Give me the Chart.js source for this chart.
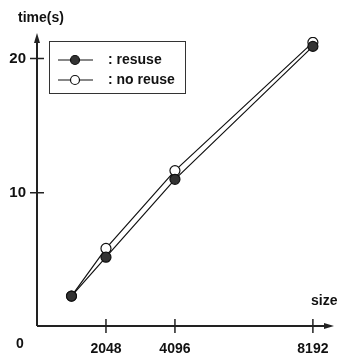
<!DOCTYPE html>
<html>
<head>
<meta charset="utf-8">
<script src="https://cdn.jsdelivr.net/npm/chart.js@4.4.1/dist/chart.umd.min.js"></script>
<style>
  html, body { margin: 0; padding: 0; background: #fff; }
  #wrap { width: 338px; height: 354px; }
</style>
</head>
<body>
<div id="wrap"><canvas id="timeChart" width="338" height="354"></canvas></div>
<script>
const sizes = [1024, 2048, 4096, 8192];
const reuseTimes = [2.3, 5.2, 11.0, 20.9];
const noReuseTimes = [2.3, 5.85, 11.65, 21.2];
const xTicks = [2048, 4096, 8192];
const yTicks = [10, 20];
const seriesLabels = [': resuse', ': no reuse'];

const font = { family: '"Liberation Sans", Arial, sans-serif', size: 14, weight: 'bold' };

// axes with arrows, crossing tick marks, axis titles and the legend box
const decor = {
  id: 'decor',
  afterDraw(chart) {
    const ctx = chart.ctx;
    const area = chart.chartArea;
    const xs = chart.scales.x, ys = chart.scales.y;
    const x0 = xs.getPixelForValue(0), y0 = ys.getPixelForValue(0) - 1;
    ctx.save();
    ctx.strokeStyle = '#222';
    ctx.fillStyle = '#222';
    ctx.lineWidth = 2;
    ctx.beginPath();
    ctx.moveTo(x0, y0);
    ctx.lineTo(x0, area.top + 2);
    ctx.moveTo(x0, y0);
    ctx.lineTo(area.right - 2, y0);
    ctx.stroke();
    // arrow heads
    ctx.beginPath();
    ctx.moveTo(x0, area.top - 4);
    ctx.lineTo(x0 - 3, area.top + 6);
    ctx.lineTo(x0 + 3, area.top + 6);
    ctx.closePath();
    ctx.fill();
    ctx.beginPath();
    ctx.moveTo(area.right + 4, y0);
    ctx.lineTo(area.right - 6, y0 - 3);
    ctx.lineTo(area.right - 6, y0 + 3);
    ctx.closePath();
    ctx.fill();
    // ticks
    ctx.lineWidth = 1.5;
    ctx.beginPath();
    xTicks.forEach(v => {
      const p = xs.getPixelForValue(v);
      ctx.moveTo(p, y0 - 7);
      ctx.lineTo(p, y0 + 7);
    });
    yTicks.forEach(v => {
      const p = ys.getPixelForValue(v);
      ctx.moveTo(x0 - 7, p);
      ctx.lineTo(x0 + 7, p);
    });
    ctx.stroke();
    // titles
    ctx.font = 'bold 14px "Liberation Sans", Arial, sans-serif';
    ctx.fillStyle = '#111';
    ctx.textBaseline = 'middle';
    ctx.textAlign = 'left';
    ctx.fillText('time(s)', 18, 18);
    ctx.fillText('size', 311, 301);
    ctx.textAlign = 'center';
    ctx.fillText('0', 20, 344);
    ctx.textAlign = 'left';
    // legend
    const bx = 49, by = 41, bw = 136, bh = 52;
    ctx.lineWidth = 1;
    ctx.strokeStyle = '#333';
    ctx.strokeRect(bx + 0.5, by + 0.5, bw, bh);
    chart.data.datasets.forEach((ds, i) => {
      const ly = by + 19 + i * 20;
      ctx.strokeStyle = '#111';
      ctx.lineWidth = 1.2;
      ctx.beginPath();
      ctx.moveTo(58, ly);
      ctx.lineTo(93, ly);
      ctx.stroke();
      ctx.beginPath();
      ctx.arc(75, ly, 4.5, 0, Math.PI * 2);
      ctx.fillStyle = ds.pointBackgroundColor;
      ctx.fill();
      ctx.stroke();
      ctx.fillStyle = '#111';
      ctx.fillText(ds.label, 108, ly);
    });
    ctx.restore();
  }
};

new Chart(document.getElementById('timeChart'), {
  type: 'scatter',
  data: {
    datasets: [
      {
        label: seriesLabels[0],
        data: sizes.map((s, i) => ({ x: s, y: reuseTimes[i] })),
        showLine: true,
        borderColor: '#111',
        borderWidth: 1.2,
        pointRadius: 5,
        pointBackgroundColor: '#333',
        pointBorderColor: '#111',
        pointBorderWidth: 1.2
      },
      {
        label: seriesLabels[1],
        data: sizes.map((s, i) => ({ x: s, y: noReuseTimes[i] })),
        showLine: true,
        borderColor: '#111',
        borderWidth: 1.2,
        pointRadius: 5,
        pointBackgroundColor: '#fff',
        pointBorderColor: '#111',
        pointBorderWidth: 1.2
      }
    ]
  },
  options: {
    responsive: false,
    animation: false,
    layout: { padding: { top: 37, right: 8, left: 0, bottom: 0 } },
    plugins: { legend: { display: false }, tooltip: { enabled: false } },
    scales: {
      x: {
        type: 'linear',
        min: 0,
        max: 8700,
        grid: { display: false, drawTicks: false },
        border: { display: false },
        afterBuildTicks: s => { s.ticks = xTicks.map(v => ({ value: v })); },
        afterFit: s => { s.height = 27; s.paddingRight = 0; s.paddingLeft = 0; },
        ticks: { color: '#111', font: font, padding: 14, maxRotation: 0, callback: v => String(v) }
      },
      y: {
        type: 'linear',
        min: 0,
        max: 21.6,
        grid: { display: false, drawTicks: false },
        border: { display: false },
        afterBuildTicks: s => { s.ticks = yTicks.map(v => ({ value: v })); },
        afterFit: s => { s.width = 37; },
        ticks: { color: '#111', font: { family: font.family, size: 15, weight: 'bold' }, padding: 11 }
      }
    }
  },
  plugins: [decor]
});
</script>
</body>
</html>
